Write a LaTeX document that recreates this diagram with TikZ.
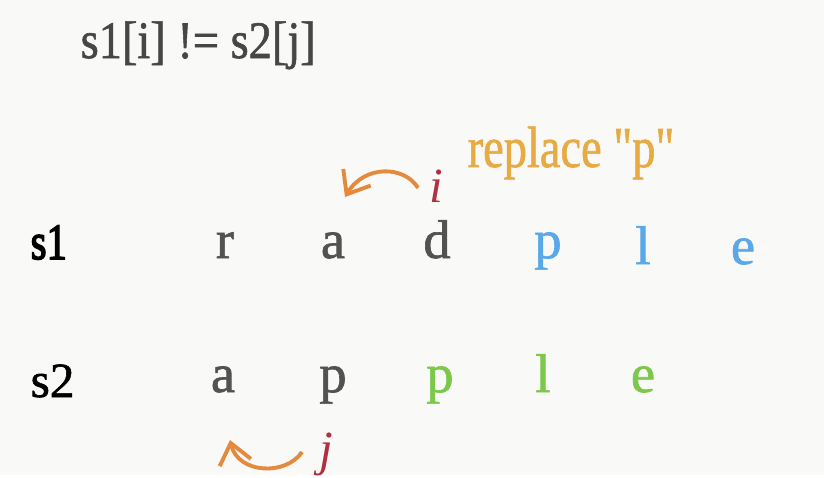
\documentclass[tikz,border=0pt]{standalone}
\usepackage{fontspec}
\setmainfont{Liberation Serif}
\newfontfamily\heavyserif[FakeBold=1.2]{Liberation Serif}
\newfontfamily\blackserif[FakeBold=3.2]{Liberation Serif}
\usepackage{tikz}
\usetikzlibrary{arrows.meta,positioning}
\definecolor{paper}{RGB}{249,249,247}
\definecolor{inkgrey}{RGB}{82,82,82}
\definecolor{skyblue}{RGB}{90,168,232}
\definecolor{leafgreen}{RGB}{124,200,74}
\definecolor{ptrred}{RGB}{176,48,64}
\definecolor{moveorange}{RGB}{228,138,60}
\definecolor{notegold}{RGB}{232,170,66}
\newcommand{\narrow}[1]{\scalebox{0.8}[1]{#1}}

\begin{document}
\begin{tikzpicture}[
  x=0.01cm, y=-0.01cm,
  chr/.style={anchor=base, font=\fontsize{15.5}{18}\heavyserif, text=inkgrey, inner sep=0pt},
  rowlbl/.style={anchor=base west, font=\fontsize{14}{17}\selectfont, text=black, inner sep=0pt},
  ptr/.style={anchor=base, font=\fontsize{14}{17}\selectfont\itshape, text=ptrred, inner sep=0pt},
  move/.style={-{Straight Barb[length=2mm,width=3.2mm]}, draw=moveorange, line width=1.1pt},
]

% background / bounding box
\fill[paper] (0,0) rectangle (824,475);

% ============================================================
% HEADER: condition
% ============================================================
\node[anchor=base west, font=\fontsize{15}{18}\heavyserif, text=inkgrey!85!black, inner sep=0pt]
  (cond) at (80,58) {\scalebox{0.88}[1]{s1[i] != s2[j]}};
\node[anchor=base west, font=\fontsize{16.5}{19}\heavyserif, text=notegold, inner sep=0pt]
  (note) at (467,167) {\narrow{replace \textquotedbl p\textquotedbl}};

% ============================================================
% ROW s1 : r a d p l e
% ============================================================
\node[rowlbl, font=\fontsize{14.5}{17}\blackserif] (lbla) at (30,259) {\narrow{s1}};
\node[chr] (a1) at (225,258) {r};
\node[chr] (a2) at (333,258) {a};
\node[chr] (a3) at (437,258) {d};
\node[chr, text=skyblue] (a4) at (548,258) {p};
\node[chr, text=skyblue] (a5) at (643,264) {l};
\node[chr, text=skyblue] (a6) at (743,264) {e};

% pointer i moves left
\node[ptr] (pi) at (436,202) {i};
\coordinate (istart) at (418,188);
\coordinate (iend) at (345,197);
\draw[move] (istart) .. controls (405,166) and (365,164) .. (iend);

% ============================================================
% ROW s2 : a p p l e
% ============================================================
\node[rowlbl, font=\fontsize{14}{17}\heavyserif] (lblb) at (30,397) {s2};
\node[chr] (b1) at (223,392) {a};
\node[chr] (b2) at (333,392) {p};
\node[chr, text=leafgreen] (b3) at (440,392) {p};
\node[chr, text=leafgreen] (b4) at (543,392) {l};
\node[chr, text=leafgreen] (b5) at (643,392) {e};

% pointer j moves left
\node[ptr] (pj) at (326,465) {j};
\coordinate (jstart) at (302,452);
\coordinate (jend) at (230,440);
\draw[move] (jstart) .. controls (286,476) and (238,474) .. (jend);

\end{tikzpicture}
\end{document}
